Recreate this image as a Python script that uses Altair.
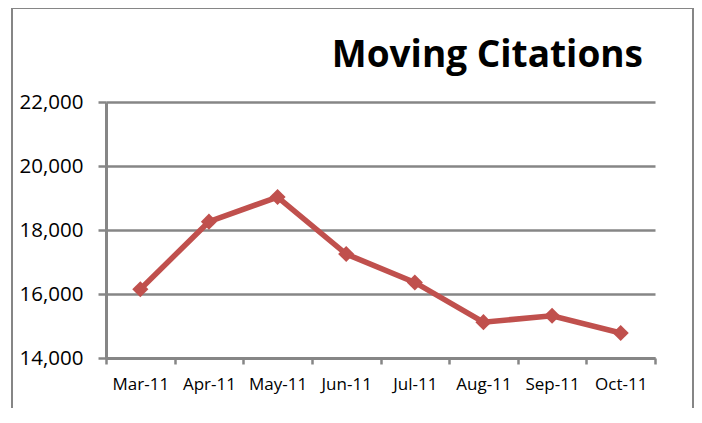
import altair as alt
import pandas as pd

months = ["Mar-11", "Apr-11", "May-11", "Jun-11", "Jul-11", "Aug-11", "Sep-11", "Oct-11"]
citations = [16150, 18260, 19030, 17250, 16360, 15120, 15320, 14780]
y_ticks = [14000, 16000, 18000, 20000, 22000]
title_text = ["Moving Citations"]

df = pd.DataFrame({"month": months, "citations": citations})
title_df = pd.DataFrame({"t": title_text})

GRAY = "#868686"
RED = "#C0504D"
FONT = "Open Sans"

x_enc = alt.X(
    "month:O",
    sort=months,
    bandPosition=0.5,
    scale=alt.Scale(type="band", paddingInner=0, paddingOuter=0),
    axis=alt.Axis(
        title=None, labelAngle=0, tickBand="extent", tickSize=6, tickWidth=2.5,
        tickColor=GRAY, domainColor=GRAY, domainWidth=3, labelFont=FONT,
        labelFontSize=17, labelColor="black", labelBaseline="alphabetic",
        labelPadding=25, grid=False,
    ),
)
y_enc = alt.Y(
    "citations:Q",
    scale=alt.Scale(domain=[14000, 22000], nice=False, zero=False),
    axis=alt.Axis(
        title=None, values=y_ticks, format=",.0f", tickSize=8, tickWidth=2.5,
        tickColor=GRAY, domainColor=GRAY, domainWidth=3, grid=True,
        gridColor=GRAY, gridWidth=2.5, gridOpacity=1, labelFont=FONT,
        labelFontSize=20.5, labelColor="black", labelPadding=15,
        labelBaseline="middle",
    ),
)

frame = alt.Chart(df).mark_rect(
    fill=None, stroke=GRAY, strokeWidth=2
).encode(
    x=alt.value(-94), x2=alt.value(587.5), y=alt.value(-94), y2=alt.value(340)
)

title = alt.Chart(title_df).mark_text(
    font=FONT, fontSize=37, fontWeight="bold", color="black",
    align="right", baseline="alphabetic",
).encode(text="t:N", x=alt.value(537), y=alt.value(-35))

line = alt.Chart(df).mark_line(color=RED, strokeWidth=5.5).encode(x=x_enc, y=y_enc)
points = alt.Chart(df).mark_point(
    shape="diamond", filled=True, color=RED, size=260, opacity=1
).encode(x=x_enc, y=y_enc)

chart = alt.layer(frame, title, line, points).properties(
    width=549,
    height=256,
    padding={"left": 98, "top": 94, "right": 39, "bottom": 50},
    autosize=alt.AutoSizeParams(type="none"),
    background="white",
).configure_view(stroke=None)

chart.save("out.html", embed_options={"renderer": "svg", "actions": False})
